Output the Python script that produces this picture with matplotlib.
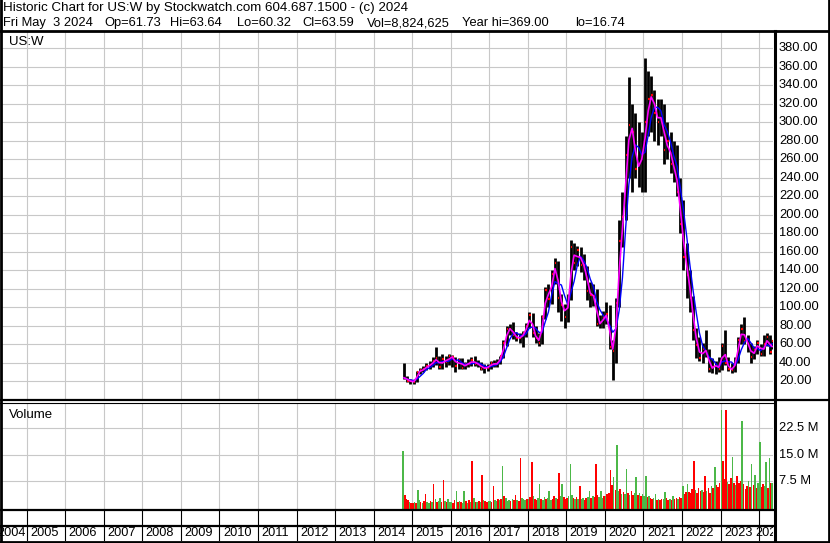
import matplotlib
matplotlib.use("Agg")
import matplotlib.pyplot as plt
from matplotlib.lines import Line2D
import numpy as np
import pandas as pd

plt.rcParams['font.family'] = ['Liberation Sans', 'DejaVu Sans']

# monthly bars, Oct 2014 .. May 2024 (last bar = May 3 2024)
first_month = "2014-10"
highs = [40, 26, 23,                                               # 2014
         22, 31, 35, 37, 40, 42, 46, 57, 48, 50, 47, 50,           # 2015
         49, 46, 45, 45, 41, 44, 46, 48, 43, 41, 39, 39,           # 2016
         42, 43, 44, 48, 65, 80, 82, 84, 74, 72, 75, 83,           # 2017
         95, 94, 80, 72, 92, 122, 125, 140, 153, 150, 115, 104,    # 2018
         115, 173, 170, 166, 165, 158, 145, 128, 125, 120, 92, 96, # 2019
         106, 103, 65, 110, 195, 225, 285, 349, 320, 310, 300, 290,  # 2020
         369, 356, 350, 335, 325, 325, 320, 300, 290, 280, 275, 240, # 2021
         216, 170, 140, 112, 78, 68, 62, 76, 55, 45, 42, 46,       # 2022
         62, 76, 46, 40, 46, 68, 82, 90, 70, 62, 58, 65,           # 2023
         60, 70, 72, 70, 63.64]                                    # 2024
lows = [23, 19, 17.5,
        17, 19, 28, 30, 32, 34, 36, 38, 33, 34, 36, 38,
        36, 30, 33, 34, 33, 36, 37, 37, 36, 32, 29, 31,
        33, 36, 36, 39, 45, 58, 70, 66, 64, 62, 57, 68,
        78, 68, 62, 58, 60, 88, 100, 104, 125, 95, 85, 78,
        84, 108, 140, 145, 138, 130, 108, 100, 102, 80, 78, 78,
        82, 55, 22, 40, 100, 165, 195, 240, 225, 240, 230, 225,
        225, 285, 290, 280, 275, 285, 255, 260, 245, 235, 220, 180,
        140, 110, 95, 65, 45, 42, 40, 46, 30, 29, 28, 30,
        32, 38, 31, 29, 30, 40, 60, 60, 52, 40, 44, 50,
        47, 48, 58, 50, 55]
closes = [24, 21, 20,
          19.5, 30, 32, 33, 37, 37.5, 42, 45, 36, 44, 41, 47,
          46, 37, 43, 35, 39, 39, 43, 39, 39, 34, 35, 35,
          40, 38, 40, 47, 62, 77, 77, 70, 67, 67, 72, 80,
          92, 72, 67, 62, 90, 119, 109, 136, 148, 110, 103, 90,
          109, 165, 148, 162, 146, 146, 118, 113, 112, 82, 83, 90,
          93, 57, 53, 105, 172, 198, 265, 297, 290, 250, 255, 265,
          300, 325, 330, 310, 300, 310, 270, 280, 255, 250, 225, 190,
          155, 135, 110, 76, 59, 45, 55, 52, 33, 36, 38, 33,
          58, 40, 34, 32, 42, 65, 77, 64, 60, 46, 55, 62,
          50, 60, 68, 52, 63.59]

# volume, two bars per month (millions), colour g = up, r = down
vol_2014 = [15.9, 3.5, 2.2, 2.0, 1.4, 1.2]
vol_2015 = [1.2, 1.5, 1.0, 4.9, 2.0, 1.3, 1.1, 1.6, 3.7, 1.4, 1.2, 1.8,
            1.5, 6.6, 2.2, 1.4, 1.6, 2.5, 1.3, 7.6, 1.8, 1.5, 2.4, 1.3]
vol_2016 = [1.5, 1.2, 2.0, 4.7, 1.4, 1.8, 1.3, 1.1, 4.7, 1.6, 1.2, 1.9,
            1.4, 13.1, 2.6, 1.5, 1.3, 1.7, 1.4, 9.3, 2.0, 1.6, 1.3, 1.8]
vol_2017 = [1.8, 1.5, 6.1, 2.0, 1.6, 2.4, 1.9, 2.2, 11.7, 3.0, 2.5, 1.8,
            2.1, 1.7, 2.3, 1.9, 3.4, 2.0, 1.8, 14.0, 2.6, 2.2, 1.9, 2.4]
vol_2018 = [2.2, 2.8, 12.9, 3.0, 2.4, 2.1, 2.6, 6.6, 2.3, 2.0, 2.9, 2.2,
            2.5, 4.7, 2.1, 2.4, 3.0, 2.6, 2.2, 9.6, 3.2, 6.6, 2.8, 2.4]
vol_2019 = [2.5, 3.0, 12.2, 3.4, 2.6, 2.2, 2.8, 2.4, 6.1, 2.3, 2.7, 2.1,
            2.5, 2.9, 4.7, 2.6, 3.1, 2.8, 12.2, 3.5, 2.9, 4.7, 2.6, 3.0]
vol_2020 = [3.2, 3.6, 4.0, 10.5, 6.2, 8.5, 5.0, 17.7, 4.5, 5.2, 3.8, 4.4,
            3.6, 10.8, 4.0, 3.4, 4.6, 3.5, 3.9, 8.5, 3.3, 4.1, 3.0, 3.6]
vol_2021 = [3.0, 8.8, 2.8, 3.2, 2.5, 2.2, 2.6, 3.7, 2.1, 2.4, 2.0, 2.3,
            2.2, 4.2, 2.5, 2.0, 2.3, 2.1, 3.2, 2.4, 2.6, 2.2, 2.9, 2.7]
vol_2022 = [6.1, 3.8, 4.2, 6.6, 4.4, 3.9, 5.2, 13.3, 4.8, 4.0, 5.5, 4.6,
            5.0, 4.3, 9.0, 4.7, 5.3, 4.1, 6.0, 5.4, 11.4, 6.2, 5.8, 7.0]
vol_2023 = [27.8, 13.3, 8.0, 27.8, 7.2, 6.5, 8.4, 14.3, 7.0, 6.2, 9.0, 6.8,
            7.5, 24.6, 6.6, 5.2, 6.0, 7.3, 5.8, 12.4, 6.4, 9.3, 5.5, 6.9]
vol_2024 = [18.6, 5.6, 6.6, 6.0, 12.9, 5.4, 14.0, 6.8, 7.0]
vol_dir = ("grrrgr"
           "rgrggrgrrggrgrgrggrrgrgg"
           "grrgrgrggrgrgrgrgrgrgrrg"
           "grrggrgrgrgggrgrrgrrgggr"
           "grrgrrggrggrgggrrgrrggrr"
           "rgggrgrgrggrrggrgrrrgggr"
           "grrrrgrggrgrggrgrrggrgrg"
           "ggrgrrggrgrrggrrgrgrrgrr"
           "grrgrrrrgrrrgrrgrrgrgrrr"
           "grrrgrrgrgrrrgrrrgrgrgrg"
           "grrggrgrg")

years = list(range(2004, 2025))
price_ticks = list(range(20, 400, 20))
vol_ticks = [7.5, 15.0, 22.5]

header1 = "Historic Chart for US:W by Stockwatch.com 604.687.1500 - (c) 2024"
header2 = ["Fri May  3 2024", "Op=61.73", "Hi=63.64", "Lo=60.32", "Cl=63.59",
           "Vol=8,824,625", "Year hi=369.00", "lo=16.74"]
header2_x = [3, 104, 170, 237, 302, 367, 462, 575]


def dec_year(ts):
    return ts.year + (ts.dayofyear - 1) / 365.25


# bar positions
months = pd.period_range(first_month, periods=len(closes), freq="M")
bar_dates = [m.to_timestamp() + pd.Timedelta(days=14) for m in months]
bar_dates[-1] = pd.Timestamp(2024, 5, 3)
t = np.array([dec_year(d) for d in bar_dates])

vols = np.array(vol_2014 + vol_2015 + vol_2016 + vol_2017 + vol_2018 + vol_2019
                + vol_2020 + vol_2021 + vol_2022 + vol_2023 + vol_2024)
half_dates = []
for k in range(len(vols)):
    m = pd.Period(first_month, freq="M") + k // 2
    day = 8 if k % 2 == 0 else 23
    half_dates.append(m.to_timestamp() + pd.Timedelta(days=day - 1))
half_dates[-1] = pd.Timestamp(2024, 5, 2)
tv = np.array([dec_year(d) for d in half_dates])
vcol = ['#4cb848' if c == 'g' else '#ff0000' for c in vol_dir]

close_s = pd.Series(closes)
ma_fast = close_s.rolling(2, min_periods=1).mean()
ma_slow = close_s.rolling(4, min_periods=1).mean()

# figure in pixel layout
W, H = 830, 543
fig = plt.figure(figsize=(W / 100, H / 100), dpi=100)


def box(x0, y0, x1, y1):
    return [x0 / W, 1 - y1 / H, (x1 - x0) / W, (y1 - y0) / H]


def hline(y, x0, x1, lw):
    fig.add_artist(Line2D([x0 / W, x1 / W], [1 - y / H, 1 - y / H], color='black', lw=lw))


def vline(x, y0, y1, lw):
    fig.add_artist(Line2D([x / W, x / W], [1 - y0 / H, 1 - y1 / H], color='black', lw=lw))


XMIN, XMAX = 2004.36, 2024.36
PX_YEAR = 771 / (XMAX - XMIN)
grid_c = '#c8c8c8'

ax_p = fig.add_axes(box(2, 32, 773, 400))
ax_v = fig.add_axes(box(2, 403, 773, 510))
ax_d = fig.add_axes(box(2, 510, 773, 541))

for ax in (ax_p, ax_v, ax_d):
    ax.set_xlim(XMIN, XMAX)
    ax.set_xticks([])
    ax.set_yticks([])
    for s in ax.spines.values():
        s.set_visible(False)

# price panel
ax_p.set_ylim(0, 397.6)
for yv in price_ticks:
    ax_p.axhline(yv, color=grid_c, lw=0.8, zorder=0)
for yr in years[1:]:
    ax_p.axvline(yr, color=grid_c, lw=0.8, zorder=0)
ax_p.vlines(t, lows, highs, color='black', lw=2.0, zorder=2)
ax_p.hlines(closes, t, t + 0.035, color='#ff0000', lw=1.6, zorder=3)
ax_p.plot(t, ma_slow, color='#0000ff', lw=1.0, zorder=4)
ax_p.plot(t, ma_fast, color='#ff00ff', lw=1.2, zorder=5)
ax_p.text(7 / 771, 1 - 13 / 368, "US:W", transform=ax_p.transAxes,
          fontsize=9.5, va='baseline', ha='left')
for yv in price_ticks:
    ax_p.text(1 + 6 / 771, yv, f"{yv:.2f}", transform=ax_p.get_yaxis_transform(),
              fontsize=9.3, va='center', ha='left', clip_on=False)

# volume panel
ax_v.set_ylim(-0.87, 29.8)
for yv in vol_ticks:
    ax_v.axhline(yv, color=grid_c, lw=0.8, zorder=0)
for yr in years[1:]:
    ax_v.axvline(yr, color=grid_c, lw=0.8, zorder=0)
ax_v.bar(tv, vols + 0.87, bottom=-0.87, width=1 / 24 * 0.95, color=vcol,
         linewidth=0, zorder=2)
ax_v.text(7 / 771, 1 - 15 / 107, "Volume", transform=ax_v.transAxes,
          fontsize=9.5, va='baseline', ha='left')
for yv in vol_ticks:
    ax_v.text(1 + 6 / 771, yv, f"{yv:.1f} M", transform=ax_v.get_yaxis_transform(),
              fontsize=9.3, va='center', ha='left', clip_on=False)

# date strip
ax_d.set_ylim(0, 31)
for yr in years[1:]:
    ax_d.axvline(yr, color='black', lw=0.8)
for yr in years:
    if yr == years[0]:
        ax_d.text(yr + 1 - 1.0 / PX_YEAR, 7.5, str(yr), fontsize=9.2,
                  ha='right', va='center', clip_on=False)
    elif yr == years[-1]:
        ax_d.text(yr - 4.0 / PX_YEAR, 7.5, str(yr), fontsize=9.2,
                  ha='left', va='center', clip_on=True)
    else:
        ax_d.text(yr + 3.5 / PX_YEAR, 7.5, str(yr), fontsize=9.2,
                  ha='left', va='center', clip_on=True)

# frame lines
vline(1, 0, 543, 2)
vline(829, 0, 543, 2)
hline(542, 0, 830, 2)
hline(31, 0, 830, 2)
vline(774.5, 31, 543, 2.2)
hline(400, 0, 830, 1.6)
hline(403, 0, 774, 0.8)
hline(510, 0, 774, 1.6)
hline(525.5, 0, 774, 1.6)

fig.text(3 / W, 1 - 11 / H, header1, fontsize=9.6, va='baseline', ha='left')
for s, xp in zip(header2, header2_x):
    fig.text(xp / W, 1 - 26 / H, s, fontsize=9.3, va='baseline', ha='left')

fig.savefig("out.png", dpi=100)
